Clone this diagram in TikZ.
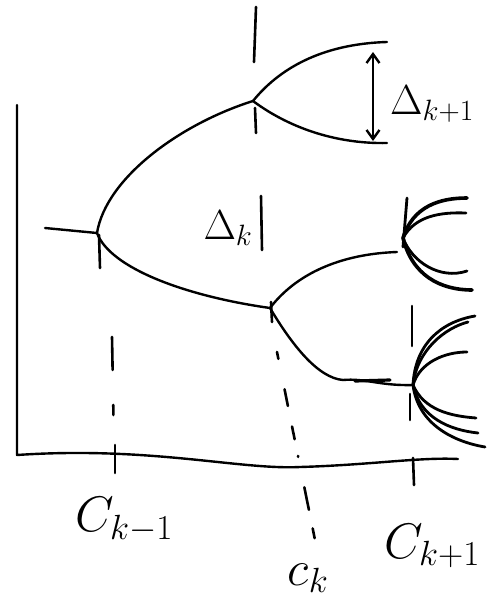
\RequirePackage{fix-cm}
\documentclass[tikz,border=0pt]{standalone}
\usetikzlibrary{arrows.meta}
\begin{document}
\begin{tikzpicture}[x=1pt, y=-1pt,
    pen/.style={line width=2.4pt, line cap=round, line join=round},
    fanpen/.style={pen, line width=2.8pt},
    tickmark/.style={pen, line width=2.6pt},
    guide/.style={pen, line width=2.6pt},
    axislbl/.style={inner sep=0pt, font=\fontsize{50}{60}\selectfont},
    gaplbl/.style={inner sep=0pt, font=\fontsize{42}{50}\selectfont},
    gaparrow/.style={pen, {Straight Barb[length=9pt,width=13pt]}-{Straight Barb[length=9pt,width=13pt]}}]
  \useasboundingbox (0,0) rectangle (491,602);
  % axes
  \coordinate (ytop) at (17,105);
  \coordinate (origin) at (17,455);
  \coordinate (xend) at (458,459);
  \draw[pen] (ytop) -- (origin) .. controls (150,446) and (240,470) .. (300,467)
    .. controls (370,465) and (420,457) .. (xend);
  % branch points
  \coordinate (stem) at (45,228);
  \coordinate (j1) at (97,233);
  \coordinate (j2) at (253,101);
  \coordinate (j3) at (270,308);
  \coordinate (up1) at (387,42);
  \coordinate (up2) at (387,143);
  \coordinate (lo1) at (397,252);
  \coordinate (lo2) at (343,380);
  \coordinate (j4) at (413,385);
  \draw[pen] (stem) -- (j1);
  \draw[pen] (j1) .. controls (106,178) and (180,124) .. (j2);
  \draw[pen] (j1) .. controls (110,268) and (185,296) .. (j3);
  \draw[pen] (j2) .. controls (278,70) and (320,44) .. (up1);
  \draw[pen] (j2) .. controls (292,130) and (340,144) .. (up2);
  \draw[pen] (j3) .. controls (296,274) and (340,254) .. (lo1);
  \draw[pen] (j3) .. controls (292,345) and (318,378) .. (lo2);
  \draw[pen] (lo2) .. controls (365,378) and (380,386) .. (j4);
  \draw[pen, line width=3.2pt] (355,381) -- (390,380);
  % fans
  \coordinate (f1) at (403,238);
  \draw[fanpen] (407,198) -- (403,247);
  \draw[fanpen, line width=3.6pt] (f1) .. controls (413,206) and (440,198) .. (467,198);
  \draw[fanpen] (f1) .. controls (415,216) and (440,212) .. (466,213);
  \draw[fanpen] (f1) .. controls (412,262) and (440,280) .. (467,271);
  \draw[fanpen, line width=3.6pt] (f1) .. controls (412,275) and (440,290) .. (472,290);
  \draw[fanpen] (j4) .. controls (415,345) and (440,322) .. (475,316);
  \draw[fanpen] (j4) .. controls (417,350) and (445,328) .. (468,322);
  \draw[fanpen] (j4) .. controls (420,362) and (445,352) .. (467,352);
  \draw[fanpen] (j4) .. controls (424,410) and (450,416) .. (476,418);
  \draw[fanpen] (j4) .. controls (420,418) and (450,430) .. (478,433);
  \draw[fanpen] (j4) .. controls (418,425) and (455,442) .. (485,447);
  % ticks
  \draw[tickmark] (99,235) -- (100,268);
  \draw[tickmark] (256,7) -- (254,62);
  \draw[tickmark] (255,108) -- (256,133);
  \draw[tickmark] (271,302) -- (272,322);
  \draw[tickmark] (261,196) -- (262,250);
  \draw[tickmark] (412,306) -- (412,346);
  \draw[tickmark] (410,394) -- (410,420);
  \draw[tickmark] (115,445) -- (115,473);
  \draw[tickmark] (413,458) -- (414,485);
  % guide lines
  \coordinate (g1a) at (112,337);
  \coordinate (g1b) at (114,445);
  \draw[guide, dash pattern=on 33pt off 35pt on 10pt off 40pt] (g1a) -- (g1b);
  \coordinate (g2a) at (277,352);
  \coordinate (g2b) at (315,540);
  \draw[guide, dash pattern=on 7pt off 31pt on 17pt off 21pt on 13pt off 17pt on 1pt off 31pt on 23pt off 19pt on 10pt off 20pt] (g2a) -- (g2b);
  % gap arrow
  \coordinate (ga) at (373,52);
  \coordinate (gb) at (373,141);
  \draw[gaparrow] (ga) -- (gb);
  % labels
  \node[gaplbl] (dk1) at (432,104) {$\Delta_{k+1}$};
  \node[gaplbl] (dk) at (228,228) {$\Delta_k$};
  \node[axislbl] (ckm) at (124,520) {$C_{k-1}$};
  \node[axislbl] (ck) at (308,578) {$c_k$};
  \node[axislbl] (ckp) at (432,546) {$C_{k+1}$};
\end{tikzpicture}
\end{document}
